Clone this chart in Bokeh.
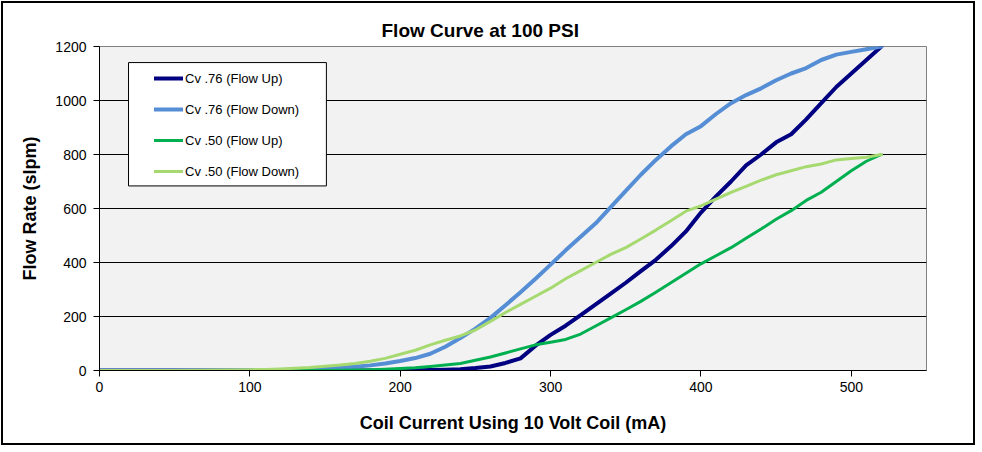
from bokeh.plotting import figure
from bokeh.models import (Range1d, FixedTicker, Legend, LegendItem,
                          BoxAnnotation)
from bokeh.embed import file_html
from bokeh.resources import INLINE

# ---- data ----
current_ma = [0, 50, 100, 110, 120, 130, 140, 150, 160, 170, 180, 190, 200,
              210, 220, 230, 240, 250, 260, 270, 280, 290, 300, 310, 320, 330,
              340, 350, 360, 370, 380, 390, 400, 410, 420, 430, 440, 450, 460,
              470, 480, 490, 500, 510, 520]

cv76_up = [0, 0, 0, 0, 0, 0, 0, 0, 0, 0, 0, 0, 0,
           1, 2, 3, 5, 9, 15, 28, 45, 92, 132, 166, 205, 245,
           285, 325, 368, 410, 460, 515, 585, 645, 700, 760, 800, 845, 875,
           930, 990, 1050, 1100, 1150, 1200]

cv76_down = [0, 0, 0, 1, 2, 3, 5, 7, 10, 14, 19, 26, 35,
             46, 62, 88, 120, 155, 195, 242, 290, 340, 392, 445, 495, 545,
             605, 665, 725, 780, 830, 875, 905, 950, 990, 1020, 1045, 1075, 1100,
             1120, 1150, 1170, 1180, 1190, 1200]

cv50_up = [0, 0, 0, 0, 0, 0, 0, 0, 1, 2, 3, 5, 7,
           10, 15, 20, 26, 38, 50, 65, 80, 95, 105, 115, 135, 165,
           195, 225, 256, 290, 325, 360, 395, 425, 455, 490, 524, 560, 592,
           630, 660, 700, 740, 775, 800]

cv50_down = [0, 0, 3, 4, 6, 8, 11, 16, 20, 26, 34, 45, 60,
             75, 95, 112, 128, 150, 182, 215, 245, 275, 305, 340, 370, 400,
             430, 455, 487, 520, 555, 590, 610, 635, 660, 682, 705, 725, 740,
             755, 765, 780, 785, 790, 800]

series_labels = ["Cv .76 (Flow Up)", "Cv .76 (Flow Down)",
                 "Cv .50 (Flow Up)", "Cv .50 (Flow Down)"]
series_colors = ["#000080", "#558ED5", "#00B050", "#A6DA70"]
series_widths = [4, 4, 3, 3]

x_ticks = [0, 100, 200, 300, 400, 500]
y_ticks = [0, 200, 400, 600, 800, 1000, 1200]
y_grid = [200, 400, 600, 800, 1000]

title_text = "Flow Curve at 100 PSI"
x_label = "Coil Current Using 10 Volt Coil (mA)"
y_label = "Flow Rate (slpm)"

FONT = "Liberation Sans"

p = figure(width=974, height=444, output_backend="svg", toolbar_location=None,
           x_range=Range1d(0, 550), y_range=Range1d(0, 1200),
           min_border_left=96, min_border_right=51, min_border_top=43,
           min_border_bottom=77)
p.styles = {"border": "2px solid black", "margin": "1px"}

p.title.text = title_text
p.title.align = "left"
p.title.offset = 282
p.title.standoff = 12
p.title.text_font = FONT
p.title.text_font_size = "19px"
p.title.text_font_style = "bold"
p.title.text_color = "black"

p.background_fill_color = "#F2F2F2"
p.border_fill_color = "white"
p.outline_line_color = "#808080"
p.outline_line_width = 1

p.xgrid.visible = False
p.ygrid.ticker = FixedTicker(ticks=y_grid)
p.ygrid.grid_line_color = "black"
p.ygrid.grid_line_width = 1

p.xaxis.ticker = FixedTicker(ticks=x_ticks)
p.yaxis.ticker = FixedTicker(ticks=y_ticks)
p.xaxis.axis_label = x_label
p.yaxis.axis_label = y_label
p.xaxis.axis_label_standoff = 18
p.yaxis.axis_label_standoff = 12
for ax, standoff in ((p.xaxis, 5), (p.yaxis, 7)):
    ax.axis_line_color = "black"
    ax.major_tick_line_color = "black"
    ax.major_tick_out = 6
    ax.major_tick_in = 0
    ax.minor_tick_line_color = None
    ax.major_label_text_font = FONT
    ax.major_label_text_font_size = "14px"
    ax.major_label_text_color = "black"
    ax.major_label_standoff = standoff
    ax.axis_label_text_font = FONT
    ax.axis_label_text_font_size = "18px"
    ax.axis_label_text_font_style = "bold"
    ax.axis_label_text_color = "black"

# legend box
box = BoxAnnotation(left=19.3, right=150.9, bottom=683.6, top=1140.5,
                    fill_color="white", fill_alpha=1.0,
                    line_color="black", line_width=1, line_alpha=1.0)
p.add_layout(box)

renderers = []
for ys, col, lw in zip([cv76_up, cv76_down, cv50_up, cv50_down],
                       series_colors, series_widths):
    r = p.line(current_ma, ys, line_color=col, line_width=lw,
               line_join="round", line_cap="round")
    renderers.append(r)

legend = Legend(items=[LegendItem(label=lab, renderers=[r])
                       for lab, r in zip(series_labels, renderers)],
                location=(55, 189), padding=0, margin=0, spacing=11,
                glyph_width=29, glyph_height=20, label_height=20,
                label_standoff=2, background_fill_alpha=0,
                border_line_alpha=0, label_text_font=FONT,
                label_text_font_size="13px", label_text_color="black")
p.add_layout(legend)

open("out.html", "w").write(file_html(p, INLINE))
